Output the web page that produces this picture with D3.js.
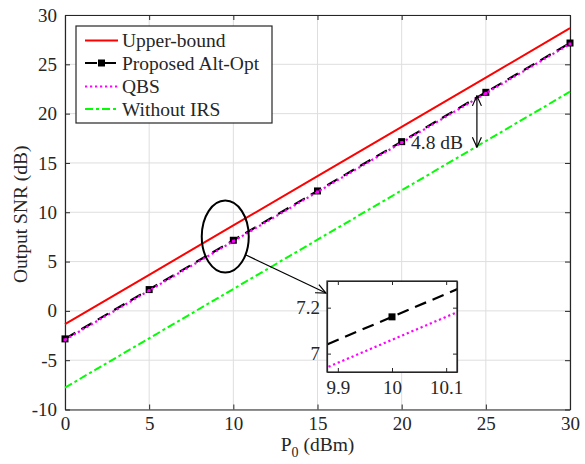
<!DOCTYPE html>
<html>
<head>
<meta charset="utf-8">
<script src="https://cdn.jsdelivr.net/npm/d3@7"></script>
<style>
body{margin:0;background:#fff;}
svg text{font-family:"Liberation Serif","DejaVu Serif",Times,serif;fill:#262626;}
</style>
</head>
<body>
<svg id="chart" width="585" height="464"></svg>
<script>
// ---- data ----
const P0 = [0, 5, 10, 15, 20, 25, 30];
const upperBound = [-1.34, 3.66, 8.66, 13.66, 18.66, 23.66, 28.66];
const proposed = [-2.84, 2.16, 7.16, 12.16, 17.16, 22.16, 27.16];
const qbs = [-2.94, 2.06, 7.06, 12.06, 17.06, 22.06, 27.06];
const withoutIRS = [-7.78, -2.78, 2.22, 7.22, 12.22, 17.22, 22.22];
const xTicks = [0, 5, 10, 15, 20, 25, 30];
const yTicks = [-10, -5, 0, 5, 10, 15, 20, 25, 30];
const insetXTicks = [9.9, 10, 10.1];
const insetYTicks = [7, 7.2];
const seriesNames = ["Upper-bound", "Proposed Alt-Opt", "QBS", "Without IRS"];
const gapLabel = "4.8 dB";

const FONT = "Liberation Serif";
const svg = d3.select("#chart");
const L = 65, R = 570, T = 15, B = 409.5;
const x = d3.scaleLinear().domain([0, 30]).range([L, R]);
const y = d3.scaleLinear().domain([-10, 30]).range([B, T]);

const axisColor = "#262626";
const gridColor = "#dedede";

// defs
const defs = svg.append("defs");
defs.append("marker").attr("id", "arrowOpen").attr("viewBox", "0 0 12 12")
  .attr("refX", 11).attr("refY", 6).attr("markerWidth", 12).attr("markerHeight", 12)
  .attr("markerUnits", "userSpaceOnUse").attr("orient", "auto-start-reverse")
  .append("path").attr("d", "M1,1.5 L11,6 L1,10.5").attr("fill", "none")
  .attr("stroke", "#000").attr("stroke-width", 1.2);

// grid
const g = svg.append("g");
g.selectAll(".gx").data(xTicks).join("line")
  .attr("x1", d => x(d)).attr("x2", d => x(d)).attr("y1", T).attr("y2", B)
  .attr("stroke", gridColor).attr("stroke-width", 1);
g.selectAll(".gy").data(yTicks).join("line")
  .attr("y1", d => y(d)).attr("y2", d => y(d)).attr("x1", L).attr("x2", R)
  .attr("stroke", gridColor).attr("stroke-width", 1);

// axes with inward ticks
function styleAxis(sel) {
  sel.attr("font-family", FONT);
  sel.selectAll("path").attr("stroke", axisColor).attr("stroke-width", 1.2);
  sel.selectAll("line").attr("stroke", axisColor).attr("stroke-width", 1);
  sel.selectAll("text").attr("font-size", "19px").attr("fill", axisColor).attr("font-family", FONT);
}
const xAxisB = svg.append("g").attr("transform", `translate(0,${B})`)
  .call(d3.axisBottom(x).tickValues(xTicks).tickSize(-5).tickSizeOuter(0).tickPadding(7).tickFormat(d3.format("d")));
styleAxis(xAxisB);
const xAxisT = svg.append("g").attr("transform", `translate(0,${T})`)
  .call(d3.axisTop(x).tickValues(xTicks).tickSize(-5).tickSizeOuter(0).tickFormat(""));
styleAxis(xAxisT);
const yAxisL = svg.append("g").attr("transform", `translate(${L},0)`)
  .call(d3.axisLeft(y).tickValues(yTicks).tickSize(-5).tickSizeOuter(0).tickPadding(8).tickFormat(d => d < 0 ? "-" + Math.abs(d) : d));
styleAxis(yAxisL);
const yAxisR = svg.append("g").attr("transform", `translate(${R},0)`)
  .call(d3.axisRight(y).tickValues(yTicks).tickSize(-5).tickSizeOuter(0).tickFormat(""));
styleAxis(yAxisR);

// series
const data = P0.map((p, i) => ({p, ub: upperBound[i], pr: proposed[i], q: qbs[i], w: withoutIRS[i]}));
function drawSeries(parent, xs, ys, withMarkers) {
  const line = key => d3.line().x(d => xs(d.p)).y(d => ys(d[key]));
  parent.append("path").datum(data).attr("d", line("ub")).attr("fill", "none")
    .attr("stroke", "#ff0000").attr("stroke-width", 2);
  parent.append("path").datum(data).attr("d", line("pr")).attr("fill", "none")
    .attr("stroke", "#000").attr("stroke-width", 2.2).attr("stroke-dasharray", "12,7");
  if (withMarkers) {
    parent.selectAll(null).data(data).join("rect")
      .attr("x", d => xs(d.p) - 3.5).attr("y", d => ys(d.pr) - 3.5)
      .attr("width", 7).attr("height", 7).attr("fill", "#000");
  }
  parent.append("path").datum(data).attr("d", line("q")).attr("fill", "none")
    .attr("stroke", "#ff00ff").attr("stroke-width", 2.2).attr("stroke-dasharray", "2.2,2.8");
  parent.append("path").datum(data).attr("d", line("w")).attr("fill", "none")
    .attr("stroke", "#00ff00").attr("stroke-width", 2).attr("stroke-dasharray", "8,3,3,3");
}
const main = svg.append("g");
drawSeries(main, x, y, true);
main.selectAll(null).data(data).join("rect")
  .attr("x", d => x(d.p) - 1.5).attr("y", d => y(d.q) - 1.5)
  .attr("width", 3).attr("height", 3).attr("fill", "#ff00ff");

// legend
const lg = svg.append("g").attr("font-family", FONT);
lg.append("rect").attr("x", 76).attr("y", 26).attr("width", 196).attr("height", 97)
  .attr("fill", "#fff").attr("stroke", axisColor).attr("stroke-width", 1.2);
const legRows = [
  {name: seriesNames[0], color: "#ff0000", dash: null},
  {name: seriesNames[1], color: "#000", dash: "12,7", marker: true},
  {name: seriesNames[2], color: "#ff00ff", dash: "2.2,2.8"},
  {name: seriesNames[3], color: "#00ff00", dash: "8,3,3,3"}
];
const legY = [40.5, 63, 86.5, 109];
legRows.forEach((r, i) => {
  const ly = legY[i];
  const ln = lg.append("line").attr("x1", 85).attr("x2", 118).attr("y1", ly).attr("y2", ly)
    .attr("stroke", r.color).attr("stroke-width", 2.2);
  if (r.dash) ln.attr("stroke-dasharray", r.dash);
  if (r.marker) lg.append("rect").attr("x", 98).attr("y", ly - 3.5).attr("width", 7).attr("height", 7).attr("fill", "#000");
  lg.append("text").attr("x", 122).attr("y", ly).attr("dy", "0.35em")
    .attr("font-size", "19.5px").attr("font-family", FONT).attr("fill", "#000").text(r.name);
});

// axis labels
svg.append("text").attr("transform", `translate(27,${(T + B) / 2 + 2}) rotate(-90)`)
  .attr("text-anchor", "middle").attr("font-size", "19.5px").attr("font-family", FONT).text("Output SNR (dB)");
const xl = svg.append("text").attr("x", (L + R) / 2).attr("y", 451).attr("text-anchor", "middle")
  .attr("font-size", "19.5px").attr("font-family", FONT);
xl.append("tspan").text("P");
xl.append("tspan").attr("font-size", "14px").attr("dy", 6).text("0");
xl.append("tspan").attr("dy", -6).text(" (dBm)");

// ellipse and arrow
svg.append("ellipse").attr("cx", x(9.52)).attr("cy", y(7.53)).attr("rx", 23.5).attr("ry", 36)
  .attr("fill", "none").attr("stroke", "#000").attr("stroke-width", 2);
svg.append("line").attr("x1", 246).attr("y1", 255).attr("x2", 326).attr("y2", 293)
  .attr("stroke", "#000").attr("stroke-width", 1.2).attr("marker-end", "url(#arrowOpen)");

// gap double arrow
svg.append("line").attr("x1", x(24.47)).attr("x2", x(24.47)).attr("y1", y(21.8)).attr("y2", y(16.6))
  .attr("stroke", "#000").attr("stroke-width", 1.2)
  .attr("marker-start", "url(#arrowOpen)").attr("marker-end", "url(#arrowOpen)");
svg.append("text").attr("x", 411).attr("y", 149).attr("font-size", "19.5px").attr("font-family", FONT)
  .attr("fill", "#000").text(gapLabel);

// inset
const iL = 327, iR = 457, iT = 281, iB = 372;
const ix = d3.scaleLinear().domain([9.88, 10.12]).range([iL, iR]);
const iy = d3.scaleLinear().domain([6.92, 7.316]).range([iB, iT]);
defs.append("clipPath").attr("id", "insetClip").append("rect")
  .attr("x", iL).attr("y", iT).attr("width", iR - iL).attr("height", iB - iT);
svg.append("rect").attr("x", iL).attr("y", iT).attr("width", iR - iL).attr("height", iB - iT).attr("fill", "#fff");
const ins = svg.append("g").attr("clip-path", "url(#insetClip)");
drawSeries(ins, ix, iy, true);
const iaB = svg.append("g").attr("transform", `translate(0,${iB})`)
  .call(d3.axisBottom(ix).tickValues(insetXTicks).tickSize(-4).tickSizeOuter(0).tickPadding(9).tickFormat(d3.format("")));
styleAxis(iaB);
const iaT = svg.append("g").attr("transform", `translate(0,${iT})`)
  .call(d3.axisTop(ix).tickValues(insetXTicks).tickSize(-4).tickSizeOuter(0).tickFormat(""));
styleAxis(iaT);
const iaL = svg.append("g").attr("transform", `translate(${iL},0)`)
  .call(d3.axisLeft(iy).tickValues(insetYTicks).tickSize(-4).tickSizeOuter(0).tickPadding(7).tickFormat(d3.format("")));
styleAxis(iaL);
const iaR = svg.append("g").attr("transform", `translate(${iR},0)`)
  .call(d3.axisRight(iy).tickValues(insetYTicks).tickSize(-4).tickSizeOuter(0).tickFormat(""));
styleAxis(iaR);
svg.append("rect").attr("x", iL).attr("y", iT).attr("width", iR - iL).attr("height", iB - iT)
  .attr("fill", "none").attr("stroke", axisColor).attr("stroke-width", 1.2);
</script>
</body>
</html>
